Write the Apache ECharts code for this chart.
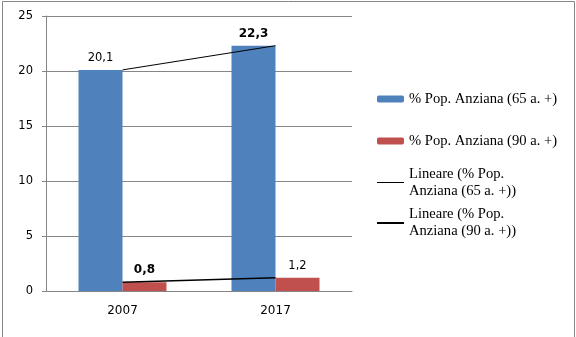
<!DOCTYPE html>
<html>
<head>
<meta charset="utf-8">
<script src="https://cdn.jsdelivr.net/npm/echarts@6/dist/echarts.min.js"></script>
<style>
  html, body { margin: 0; padding: 0; background: #fff; }
  #chart { width: 576px; height: 337px; }
</style>
</head>
<body>
<div id="chart"></div>
<script>
// ─── dati ────────────────────────────────────────────────
const years = ["2007", "2017"];
const pop65 = [20.1, 22.3];
const pop90 = [0.8, 1.2];
const yTicks = { min: 0, max: 25, step: 5 };

const NAME_65 = "% Pop. Anziana (65 a. +)";
const NAME_90 = "% Pop. Anziana (90 a. +)";
const NAME_L65 = "Lineare (% Pop. Anziana (65 a. +))";
const NAME_L90 = "Lineare (% Pop. Anziana (90 a. +))";

// etichette in grassetto (come nell'originale)
const bold65 = [false, true];
const bold90 = [true, false];

const GREY = "#868686";
const SANS = "DejaVu Sans, Verdana, sans-serif";
const SERIF = "Liberation Serif, Times New Roman, serif";

function comma(v) {
  return String(v).replace(".", ",");
}

function barData(values, bolds) {
  return values.map((v, i) => ({
    value: v,
    label: { fontWeight: bolds[i] ? "bold" : "normal", fontSize: bolds[i] ? 12 : 11.5 },
  }));
}

const legendText = {
  fontFamily: SERIF,
  fontSize: 14.6,
  color: "#000",
  lineHeight: 17,
};

function legendFor(name, top, opts) {
  return Object.assign(
    {
      data: [name],
      left: 377,
      top: top,
      padding: 0,
      itemWidth: 27,
      itemGap: 0,
      selectedMode: false,
      textStyle: legendText,
    },
    opts || {}
  );
}

const chart = echarts.init(document.getElementById("chart"));

chart.setOption({
  animation: false,
  backgroundColor: "#fff",
  grid: { left: 46, right: 224, top: 16, bottom: 46 },
  xAxis: {
    type: "category",
    data: years,
    axisLine: { lineStyle: { color: GREY } },
    axisTick: { length: 5, lineStyle: { color: GREY } },
    axisLabel: { color: "#000", fontFamily: SANS, fontSize: 12, margin: 14 },
  },
  yAxis: {
    type: "value",
    min: yTicks.min,
    max: yTicks.max,
    interval: yTicks.step,
    axisLine: { show: true, lineStyle: { color: GREY } },
    axisTick: { show: true, length: 4, lineStyle: { color: GREY } },
    splitLine: { lineStyle: { color: GREY } },
    axisLabel: { color: "#000", fontFamily: SANS, fontSize: 11.5, margin: 13 },
  },
  legend: [
    legendFor(NAME_65, 90.5, { itemHeight: 7 }),
    legendFor(NAME_90, 132.5, { itemHeight: 7 }),
    legendFor(NAME_L65, 157, {
      itemHeight: 1,
      data: [{ name: NAME_L65, icon: "rect" }],
      formatter: () => "Lineare (% Pop.\nAnziana (65 a. +))",
      textStyle: Object.assign({}, legendText, { padding: [17, 0, 0, 0] }),
    }),
    legendFor(NAME_L90, 197.5, {
      itemHeight: 2,
      data: [{ name: NAME_L90, icon: "rect" }],
      formatter: () => "Lineare (% Pop.\nAnziana (90 a. +))",
      textStyle: Object.assign({}, legendText, { padding: [17, 0, 0, 0] }),
    }),
  ],
  series: [
    {
      name: NAME_65,
      type: "bar",
      data: barData(pop65, bold65),
      barWidth: 44,
      barGap: "0%",
      itemStyle: { color: "#4F81BD" },
      label: {
        show: true,
        position: "top",
        distance: 6,
        color: "#000",
        fontFamily: SANS,
        formatter: (p) => comma(p.value),
      },
    },
    {
      name: NAME_90,
      type: "bar",
      data: barData(pop90, bold90),
      barWidth: 44,
      barGap: "0%",
      itemStyle: { color: "#C0504D" },
      label: {
        show: true,
        position: "top",
        distance: 6,
        color: "#000",
        fontFamily: SANS,
        formatter: (p) => comma(p.value),
      },
    },
    {
      name: NAME_L65,
      type: "line",
      data: pop65,
      symbol: "none",
      z: 5,
      color: "#000",
      lineStyle: { color: "#000", width: 1 },
    },
    {
      name: NAME_L90,
      type: "line",
      data: pop90,
      symbol: "none",
      z: 5,
      color: "#000",
      lineStyle: { color: "#000", width: 1.5 },
    },
  ],
  graphic: [
    {
      type: "polyline",
      silent: true,
      shape: { points: [[2.5, 337], [2.5, 1.5], [574.5, 1.5], [574.5, 337]] },
      style: { stroke: GREY, lineWidth: 1, fill: null },
    },
  ],
});
</script>
</body>
</html>
